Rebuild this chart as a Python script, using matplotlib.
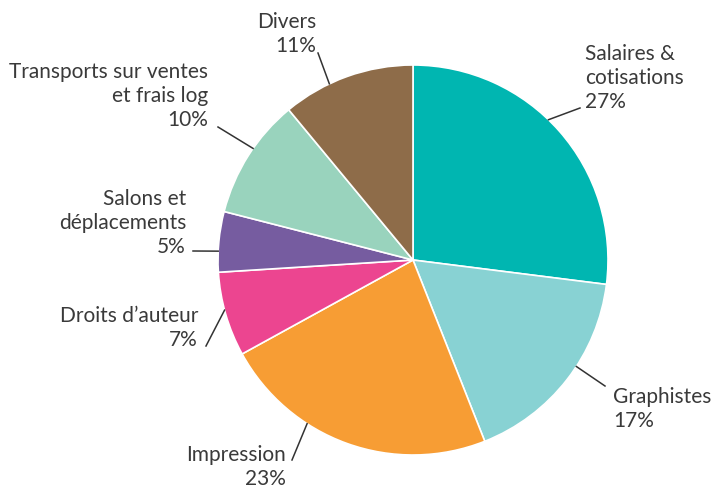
import matplotlib
matplotlib.use("Agg")
import matplotlib.pyplot as plt
import numpy as np

# données
postes = ["Salaires &\ncotisations", "Graphistes", "Impression", "Droits d\u2019auteur",
          "Salons et\nd\u00e9placements", "Transports sur ventes\net frais log", "Divers"]
parts = [27, 17, 23, 7, 5, 10, 11]
couleurs = ["#00B6B1", "#88D2D3", "#F79D34", "#EC4590", "#765CA0", "#99D3BD", "#8E6C49"]

# mise en page (pixels, origine en bas à gauche)
W, H = 720, 492
centre = (413, 232)
rayon = 195
# décalage (degrés) du départ du trait par rapport au milieu de la part
decal = [4.6, 4.7, -13.1, -1.3, 2.8, -2.5, 5.6]
fin_trait = [(580, 384), (605, 106), (292, 32), (206, 146), (193, 241), (218, 365), (318, 439)]
# position de la ligne du pourcentage (dernière ligne)
pos_texte = [(585, 384, "left"), (613, 65, "left"), (286, 7, "right"), (198, 146, "right"),
             (186, 239, "right"), (208, 366, "right"), (316, 440, "right")]

plt.rcParams['font.family'] = ['Lato', 'DejaVu Sans']

fig = plt.figure(figsize=(7.2, 4.92), dpi=100)
ax = fig.add_axes([0, 0, 1, 1])

wedges, _ = ax.pie(parts, colors=couleurs, startangle=90, counterclock=False,
                   center=centre, radius=rayon, frame=True,
                   wedgeprops=dict(edgecolor='white', linewidth=1.2))
ax.set_xlim(0, W)
ax.set_ylim(0, H)
ax.set_aspect('equal')
ax.axis('off')

for w, nom, p, d, fin, (tx, ty, ha) in zip(wedges, postes, parts, decal, fin_trait, pos_texte):
    a = np.deg2rad((w.theta1 + w.theta2) / 2 + d)
    x0 = centre[0] + rayon * np.cos(a)
    y0 = centre[1] + rayon * np.sin(a)
    ax.plot([x0, fin[0]], [y0, fin[1]], color='#333333', lw=1.1)
    ax.text(tx, ty, f"{nom}\n{p}%", ha=ha, va='baseline', fontsize=15,
            color='#3a3a3a', linespacing=1.25, multialignment=ha)

fig.savefig("out.png", dpi=100)
